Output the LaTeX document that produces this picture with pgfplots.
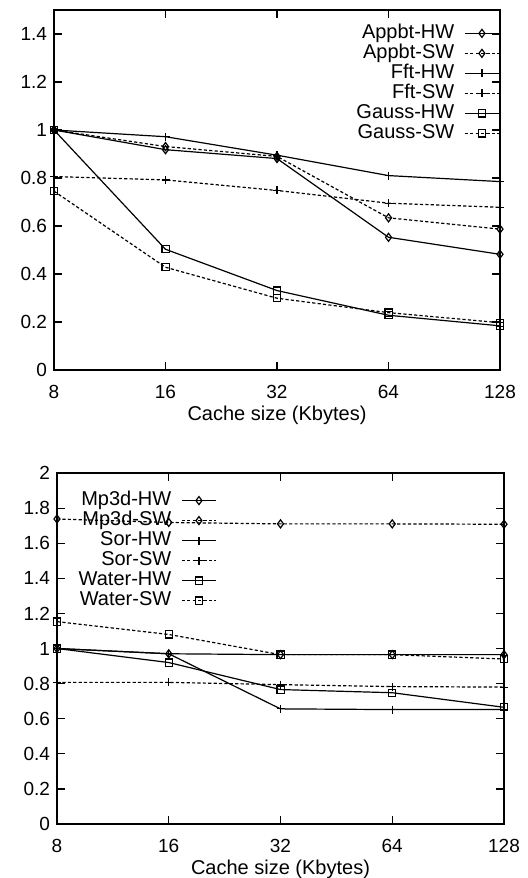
\documentclass[border=0pt]{standalone}
\usepackage{fontspec}
\setmainfont{Liberation Sans}
\usepackage{pgfplots}
\pgfplotsset{compat=1.18}
\pgfplotsset{
 mystyle/.style={
  scale only axis, xmin=0, xmax=4, xtick={0,1,2,3,4}, xticklabels={8,16,32,64,128},
  tick align=inside, tick pos=both, major tick length=4pt,
  /pgf/number format/assume math mode=true,
  tick label style={font=\fontsize{9.5}{11}\selectfont},
  xticklabel style={yshift=-4pt},
  label style={font=\fontsize{10}{12}\selectfont},
  xlabel={Cache size (Kbytes)},
  xlabel style={yshift=3pt},
  axis line style={line width=0.6pt},
  every tick/.style={line width=0.6pt, black},
  legend style={draw=none, fill=none, inner sep=0pt, row sep=0pt, column sep=0pt,
    nodes={font=\fontsize{10}{12}\selectfont, inner xsep=5pt, inner ysep=0pt, text height=7.6pt, text depth=2.4pt}},
  legend cell align=right, legend plot pos=right,
 },
 hw/.style={black, line width=0.6pt, solid, mark options={solid}},
 sw/.style={black, line width=0.6pt, dash pattern=on 1.6pt off 1.1pt, mark options={solid}},
}
\begin{document}
\begin{tikzpicture}
\useasboundingbox (0,0) rectangle (264pt,439pt);
\begin{axis}[mystyle, at={(27pt,254pt)}, anchor=south west, width=223pt, height=180pt,
  ymin=0, ymax=1.5, ytick={0,0.2,0.4,0.6,0.8,1,1.2,1.4},
  legend style={at={(1,0.964)}, anchor=north east}]
\addplot[hw, mark=diamond, mark size=2pt] coordinates {(0,1.0) (1,0.918) (2,0.881) (3,0.553) (4,0.482)};
\addlegendentry{Appbt-HW}
\addplot[sw, mark=diamond, mark size=2pt] coordinates {(0,1.0) (1,0.931) (2,0.890) (3,0.634) (4,0.587)};
\addlegendentry{Appbt-SW}
\addplot[hw, mark=+, mark size=2pt] coordinates {(0,1.0) (1,0.972) (2,0.895) (3,0.810) (4,0.785)};
\addlegendentry{Fft-HW}
\addplot[sw, mark=+, mark size=2pt] coordinates {(0,0.806) (1,0.792) (2,0.748) (3,0.695) (4,0.678)};
\addlegendentry{Fft-SW}
\addplot[hw, mark=square, mark size=1.8pt] coordinates {(0,1.0) (1,0.503) (2,0.331) (3,0.228) (4,0.184)};
\addlegendentry{Gauss-HW}
\addplot[sw, mark=square, mark size=1.8pt] coordinates {(0,0.745) (1,0.428) (2,0.299) (3,0.239) (4,0.197)};
\addlegendentry{Gauss-SW}
\end{axis}
\begin{axis}[mystyle, at={(28.5pt,27pt)}, anchor=south west, width=223.5pt, height=175.5pt,
  ymin=0, ymax=2, ytick={0,0.2,0.4,0.6,0.8,1,1.2,1.4,1.6,1.8,2},
  legend style={at={(0.358,0.951)}, anchor=north east}]
\addplot[hw, mark=diamond, mark size=2pt] coordinates {(0,1.0) (1,0.970) (2,0.965) (3,0.965) (4,0.965)};
\addlegendentry{Mp3d-HW}
\addplot[sw, mark=diamond, mark size=2pt] coordinates {(0,1.738) (1,1.718) (2,1.710) (3,1.710) (4,1.708)};
\addlegendentry{Mp3d-SW}
\addplot[hw, mark=+, mark size=2pt] coordinates {(0,1.0) (1,0.970) (2,0.656) (3,0.652) (4,0.652)};
\addlegendentry{Sor-HW}
\addplot[sw, mark=+, mark size=2pt] coordinates {(0,0.807) (1,0.807) (2,0.794) (3,0.783) (4,0.780)};
\addlegendentry{Sor-SW}
\addplot[hw, mark=square, mark size=1.8pt] coordinates {(0,1.0) (1,0.920) (2,0.766) (3,0.748) (4,0.665)};
\addlegendentry{Water-HW}
\addplot[sw, mark=square, mark size=1.8pt] coordinates {(0,1.153) (1,1.080) (2,0.965) (3,0.965) (4,0.940)};
\addlegendentry{Water-SW}
\end{axis}
\end{tikzpicture}
\end{document}
